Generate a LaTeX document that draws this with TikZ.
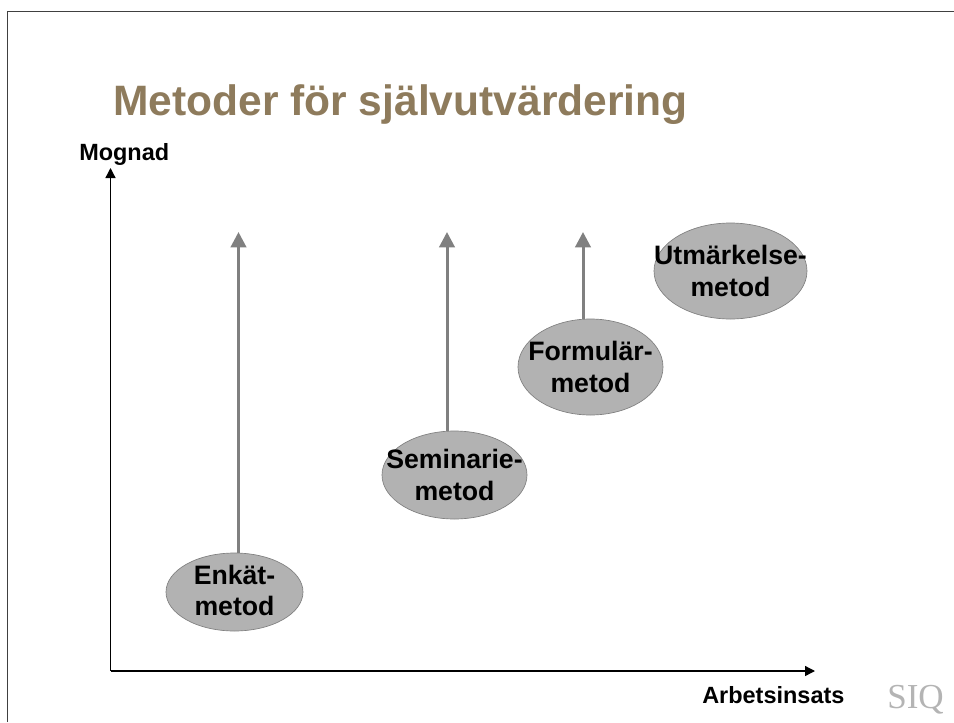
\documentclass[tikz,border=0pt]{standalone}
\usepackage{fontspec}
\setmainfont{Liberation Sans}
\newfontfamily\siqfont{Liberation Serif}
\usetikzlibrary{arrows.meta,shapes.geometric}
\definecolor{titlebrown}{HTML}{8E7B5C}
\definecolor{ellfill}{HTML}{B2B2B2}
\definecolor{ellline}{HTML}{808080}
\definecolor{arrowgrey}{HTML}{808080}
\definecolor{siqgrey}{HTML}{B4B4B4}
\definecolor{framegrey}{HTML}{404040}
\tikzset{
  meth/.style={ellipse,draw=ellline,fill=ellfill,line width=0.5pt,inner sep=0pt},
  methtext/.style={font=\fontsize{20pt}{23.8pt}\selectfont\bfseries,align=center,inner sep=0pt,text=black},
  axislabel/.style={font=\fontsize{17.6pt}{20pt}\selectfont\bfseries,inner sep=0pt,text=black},
  axis line/.style={draw=black,line width=1pt,-{Triangle[length=7.5pt,width=7.5pt]}},
  rise/.style={draw=arrowgrey,line width=2.25pt,-{Triangle[length=11.5pt,width=11.5pt]}},
}
\begin{document}
\begin{tikzpicture}[x=0.75pt,y=-0.75pt]
\useasboundingbox (0,0) rectangle (954,722);
\draw[framegrey,line width=0.8pt] (7.5,722) -- (7.5,11.5) -- (954,11.5);
\node[anchor=base west,inner sep=0pt,text=titlebrown,font=\fontsize{31.9pt}{36pt}\selectfont\bfseries] (title) at (113,115) {Metoder för självutvärdering};
\coordinate (origin) at (110.5,671);
\coordinate (ytip) at (110.5,168);
\coordinate (xtip) at (815,671);
\draw[axis line] (origin) -- (ytip);
\draw[axis line] (origin) -- (xtip);
\node[axislabel,anchor=base west] (mognad) at (79,160) {Mognad};
\node[axislabel,anchor=base west] (arbete) at (702,703) {Arbetsinsats};
\node[anchor=base west,inner sep=0pt,text=siqgrey,font=\fontsize{26.3pt}{28pt}\selectfont\siqfont] (siq) at (887,708) {SIQ};
\coordinate (t1) at (238.5,232);
\coordinate (t2) at (447,232);
\coordinate (t3) at (583,232);
\node[meth,minimum width=102.75pt,minimum height=58.5pt] (enk) at (234.5,592) {};
\node[meth,minimum width=108.75pt,minimum height=66pt] (sem) at (454.5,475) {};
\node[meth,minimum width=108.75pt,minimum height=72pt] (frm) at (590.5,367) {};
\node[meth,minimum width=114.75pt,minimum height=72pt] (utm) at (730.5,271) {};
\draw[rise] (enk.north -| t1) -- (t1);
\draw[rise] (sem.north -| t2) -- (t2);
\draw[rise] (frm.north -| t3) -- (t3);
\node[methtext] (enkl) at (234.5,590.5) {Enkät-\\metod};
\node[methtext] (seml) at (454.5,475) {Seminarie-\\metod};
\node[methtext] (frml) at (590.5,367) {Formulär-\\metod};
\node[methtext] (utml) at (730.5,271) {Utmärkelse-\\metod};
\end{tikzpicture}
\end{document}
